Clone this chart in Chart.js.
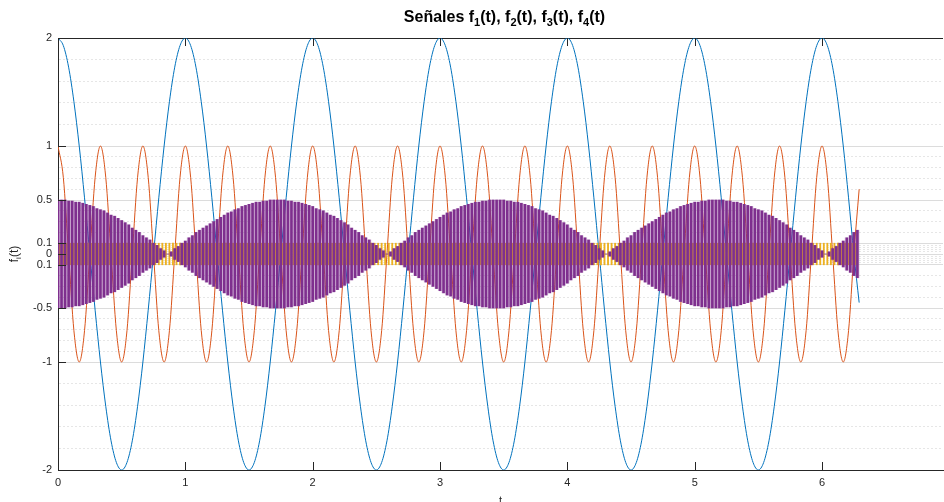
<!DOCTYPE html>
<html>
<head>
<meta charset="utf-8">
<script src="https://cdn.jsdelivr.net/npm/chart.js@4.4.1/dist/chart.umd.min.js"></script>
<style>
  html, body { margin: 0; padding: 0; background: #fff; }
  #wrap { width: 944px; height: 502px; }
</style>
</head>
<body>
<div id="wrap"><canvas id="chart" width="944" height="502"></canvas></div>
<script>
// f1 and f2 are sampled every 1/24 of a unit of t, starting at t = 0
const lineStep = 1 / 24;
const f1Values = [
  2, 1.93, 1.73, 1.41, 1, 0.52, 0, -0.52, -1, -1.41, -1.73, -1.93, -2, -1.93, -1.73, -1.41, -1, -0.52, 0, 0.52, 1, 1.41, 1.73, 1.93,
  2, 1.93, 1.73, 1.41, 1, 0.52, 0, -0.52, -1, -1.41, -1.73, -1.93, -2, -1.93, -1.73, -1.41, -1, -0.52, 0, 0.52, 1, 1.41, 1.73, 1.93,
  2, 1.93, 1.73, 1.41, 1, 0.52, 0, -0.52, -1, -1.41, -1.73, -1.93, -2, -1.93, -1.73, -1.41, -1, -0.52, 0, 0.52, 1, 1.41, 1.73, 1.93,
  2, 1.93, 1.73, 1.41, 1, 0.52, 0, -0.52, -1, -1.41, -1.73, -1.93, -2, -1.93, -1.73, -1.41, -1, -0.52, 0, 0.52, 1, 1.41, 1.73, 1.93,
  2, 1.93, 1.73, 1.41, 1, 0.52, 0, -0.52, -1, -1.41, -1.73, -1.93, -2, -1.93, -1.73, -1.41, -1, -0.52, 0, 0.52, 1, 1.41, 1.73, 1.93,
  2, 1.93, 1.73, 1.41, 1, 0.52, 0, -0.52, -1, -1.41, -1.73, -1.93, -2, -1.93, -1.73, -1.41, -1, -0.52, 0, 0.52, 1, 1.41, 1.73, 1.93,
  2, 1.93, 1.73, 1.41, 1, 0.52, 0, -0.45
];
const f2Values = [
  1, 0.71, 0, -0.71, -1, -0.71, 0, 0.71, 1, 0.71, 0, -0.71, -1, -0.71, 0, 0.71,
  1, 0.71, 0, -0.71, -1, -0.71, 0, 0.71, 1, 0.71, 0, -0.71, -1, -0.71, 0, 0.71,
  1, 0.71, 0, -0.71, -1, -0.71, 0, 0.71, 1, 0.71, 0, -0.71, -1, -0.71, 0, 0.71,
  1, 0.71, 0, -0.71, -1, -0.71, 0, 0.71, 1, 0.71, 0, -0.71, -1, -0.71, 0, 0.71,
  1, 0.71, 0, -0.71, -1, -0.71, 0, 0.71, 1, 0.71, 0, -0.71, -1, -0.71, 0, 0.71,
  1, 0.71, 0, -0.71, -1, -0.71, 0, 0.71, 1, 0.71, 0, -0.71, -1, -0.71, 0, 0.71,
  1, 0.71, 0, -0.71, -1, -0.71, 0, 0.71, 1, 0.71, 0, -0.71, -1, -0.71, 0, 0.71,
  1, 0.71, 0, -0.71, -1, -0.71, 0, 0.71, 1, 0.71, 0, -0.71, -1, -0.71, 0, 0.71,
  1, 0.71, 0, -0.71, -1, -0.71, 0, 0.71, 1, 0.71, 0, -0.71, -1, -0.71, 0, 0.71,
  1, 0.71, 0, -0.71, -1, -0.71, 0, 0.6
];

// f3 / f4 fast oscillations: one swing every 1/36 of a unit of t
const carrierStep = 1 / 36;
const f3Amp = [
  0.1, 0.1, 0.1, 0.1, 0.1, 0.1, 0.1, 0.1, 0.1, 0.1, 0.1, 0.1, 0.1, 0.1, 0.1, 0.1, 0.1, 0.1, 0.1, 0.1,
  0.1, 0.1, 0.1, 0.1, 0.1, 0.1, 0.1, 0.1, 0.1, 0.1, 0.1, 0.1, 0.1, 0.1, 0.1, 0.1, 0.1, 0.1, 0.1, 0.1,
  0.1, 0.1, 0.1, 0.1, 0.1, 0.1, 0.1, 0.1, 0.1, 0.1, 0.1, 0.1, 0.1, 0.1, 0.1, 0.1, 0.1, 0.1, 0.1, 0.1,
  0.1, 0.1, 0.1, 0.1, 0.1, 0.1, 0.1, 0.1, 0.1, 0.1, 0.1, 0.1, 0.1, 0.1, 0.1, 0.1, 0.1, 0.1, 0.1, 0.1,
  0.1, 0.1, 0.1, 0.1, 0.1, 0.1, 0.1, 0.1, 0.1, 0.1, 0.1, 0.1, 0.1, 0.1, 0.1, 0.1, 0.1, 0.1, 0.1, 0.1,
  0.1, 0.1, 0.1, 0.1, 0.1, 0.1, 0.1, 0.1, 0.1, 0.1, 0.1, 0.1, 0.1, 0.1, 0.1, 0.1, 0.1, 0.1, 0.1, 0.1,
  0.1, 0.1, 0.1, 0.1, 0.1, 0.1, 0.1, 0.1, 0.1, 0.1, 0.1, 0.1, 0.1, 0.1, 0.1, 0.1, 0.1, 0.1, 0.1, 0.1,
  0.1, 0.1, 0.1, 0.1, 0.1, 0.1, 0.1, 0.1, 0.1, 0.1, 0.1, 0.1, 0.1, 0.1, 0.1, 0.1, 0.1, 0.1, 0.1, 0.1,
  0.1, 0.1, 0.1, 0.1, 0.1, 0.1, 0.1, 0.1, 0.1, 0.1, 0.1, 0.1, 0.1, 0.1, 0.1, 0.1, 0.1, 0.1, 0.1, 0.1,
  0.1, 0.1, 0.1, 0.1, 0.1, 0.1, 0.1, 0.1, 0.1, 0.1, 0.1, 0.1, 0.1, 0.1, 0.1, 0.1, 0.1, 0.1, 0.1, 0.1,
  0.1, 0.1, 0.1, 0.1, 0.1, 0.1, 0.1, 0.1, 0.1, 0.1, 0.1, 0.1, 0.1, 0.1, 0.1, 0.1, 0.1, 0.1, 0.1, 0.1,
  0.1, 0.1, 0.1, 0.1, 0.1, 0.1
];
const f4Env = [
  0.50, 0.50, 0.50, 0.49, 0.49, 0.48, 0.48, 0.47, 0.46, 0.45, 0.44, 0.42, 0.41, 0.40, 0.38, 0.36, 0.35, 0.33, 0.31, 0.29,
  0.27, 0.24, 0.22, 0.20, 0.17, 0.15, 0.13, 0.10, 0.08, 0.05, 0.03, 0.00, 0.02, 0.05, 0.07, 0.10, 0.12, 0.15, 0.17, 0.20,
  0.22, 0.24, 0.26, 0.28, 0.30, 0.32, 0.34, 0.36, 0.38, 0.39, 0.41, 0.42, 0.44, 0.45, 0.46, 0.47, 0.48, 0.48, 0.49, 0.49,
  0.50, 0.50,
  0.50, 0.50, 0.50, 0.49, 0.49, 0.48, 0.48, 0.47, 0.46, 0.45, 0.44, 0.42, 0.41, 0.40, 0.38, 0.36, 0.35, 0.33, 0.31, 0.29,
  0.27, 0.24, 0.22, 0.20, 0.17, 0.15, 0.13, 0.10, 0.08, 0.05, 0.03, 0.00, 0.02, 0.05, 0.07, 0.10, 0.12, 0.15, 0.17, 0.20,
  0.22, 0.24, 0.26, 0.28, 0.30, 0.32, 0.34, 0.36, 0.38, 0.39, 0.41, 0.42, 0.44, 0.45, 0.46, 0.47, 0.48, 0.48, 0.49, 0.49,
  0.50, 0.50,
  0.50, 0.50, 0.50, 0.49, 0.49, 0.48, 0.48, 0.47, 0.46, 0.45, 0.44, 0.42, 0.41, 0.40, 0.38, 0.36, 0.35, 0.33, 0.31, 0.29,
  0.27, 0.24, 0.22, 0.20, 0.17, 0.15, 0.13, 0.10, 0.08, 0.05, 0.03, 0.00, 0.02, 0.05, 0.07, 0.10, 0.12, 0.15, 0.17, 0.20,
  0.22, 0.24, 0.26, 0.28, 0.30, 0.32, 0.34, 0.36, 0.38, 0.39, 0.41, 0.42, 0.44, 0.45, 0.46, 0.47, 0.48, 0.48, 0.49, 0.49,
  0.50, 0.50,
  0.50, 0.50, 0.50, 0.49, 0.49, 0.48, 0.48, 0.47, 0.46, 0.45, 0.44, 0.42, 0.41, 0.40, 0.38, 0.36, 0.35, 0.33, 0.31, 0.29,
  0.27, 0.24, 0.22, 0.20, 0.17, 0.15, 0.13, 0.10, 0.08, 0.05, 0.03, 0.00, 0.02, 0.05, 0.07, 0.10, 0.12, 0.15, 0.17, 0.20,
  0.22
];

const xTicks = [0, 1, 2, 3, 4, 5, 6];
const yTicks = [-2, -1, -0.5, -0.1, 0, 0.1, 0.5, 1, 2];
const yTickLabels = ['-2', '-1', '-0.5', '0.1', '0', '0.1', '0.5', '1', '2'];
const yMinor = [
  -1.8, -1.6, -1.4, -1.2, -0.9, -0.8, -0.7, -0.6, -0.4, -0.3, -0.2, -0.08, -0.06, -0.04, -0.02,
  0.02, 0.04, 0.06, 0.08, 0.2, 0.3, 0.4, 0.6, 0.7, 0.8, 0.9, 1.2, 1.4, 1.6, 1.8
];

const titleParts = [['Señales f', 0], ['1', 1], ['(t), f', 0], ['2', 1], ['(t), f', 0], ['3', 1], ['(t), f', 0], ['4', 1], ['(t)', 0]];
const yLabelParts = [['f', 0], ['i', 1], ['(t)', 0]];

const FONT = '"Liberation Sans", Arial, Helvetica, sans-serif';
const AXIS = '#262626';

const linePts = vals => vals.map((v, i) => ({ x: i * lineStep, y: v }));
const f4Bars = f4Env.map((e, k) => ({ x: k * carrierStep, y: [-e, e] }));

function drawParts(ctx, parts, cx, y, big, small, drop) {
  let w = 0;
  parts.forEach(([s, sub]) => { ctx.font = sub ? small : big; w += ctx.measureText(s).width; });
  let x = cx - w / 2;
  parts.forEach(([s, sub]) => {
    ctx.font = sub ? small : big;
    ctx.fillText(s, x, sub ? y + drop : y);
    x += ctx.measureText(s).width;
  });
}

const decor = {
  id: 'decor',
  afterDraw(chart) {
    const { ctx, chartArea: a, scales: { x, y } } = chart;
    ctx.save();
    ctx.strokeStyle = AXIS;
    ctx.lineWidth = 1;
    ctx.beginPath();
    xTicks.forEach(v => {
      const px = Math.round(x.getPixelForValue(v)) + 0.5;
      ctx.moveTo(px, a.bottom); ctx.lineTo(px, a.bottom - 8);
      ctx.moveTo(px, a.top); ctx.lineTo(px, a.top + 8);
    });
    yTicks.forEach(v => {
      const py = Math.round(y.getPixelForValue(v)) + 0.5;
      ctx.moveTo(a.left, py); ctx.lineTo(a.left + 8, py);
    });
    ctx.stroke();

    ctx.fillStyle = '#000';
    ctx.textBaseline = 'alphabetic';
    drawParts(ctx, titleParts, (a.left + a.right) / 2 + 4, 22, 'bold 16px ' + FONT, 'bold 11px ' + FONT, 4);

    ctx.fillStyle = AXIS;
    ctx.save();
    ctx.translate(18, (a.top + a.bottom) / 2);
    ctx.rotate(-Math.PI / 2);
    drawParts(ctx, yLabelParts, 0, 0, '12px ' + FONT, '8px ' + FONT, 3);
    ctx.restore();

    ctx.font = '11px ' + FONT;
    ctx.textAlign = 'center';
    ctx.textBaseline = 'top';
    ctx.fillText('t', (a.left + a.right) / 2, a.bottom + 25);
    ctx.restore();
  }
};

new Chart(document.getElementById('chart'), {
  type: 'line',
  data: {
    datasets: [
      {
        type: 'bar',
        label: 'f4(t)',
        data: f4Bars,
        backgroundColor: '#7E2F8E',
        barThickness: 2,
        grouped: false,
        order: 0
      },
      {
        // faint haze between the dense f4 swings
        type: 'bar',
        label: 'f4 haze',
        data: f4Bars,
        backgroundColor: 'rgba(126,47,142,0.22)',
        barThickness: 3.6,
        grouped: false,
        order: 0.5
      },
      {
        type: 'bar',
        label: 'f3(t)',
        data: f3Amp.map((e, k) => ({ x: (k + 0.5) * carrierStep, y: [-e, e] })),
        backgroundColor: '#EDB120',
        barThickness: 1.2,
        grouped: false,
        order: 1
      },
      {
        label: 'f2(t)',
        data: linePts(f2Values),
        borderColor: '#D95319',
        borderWidth: 1,
        pointRadius: 0,
        cubicInterpolationMode: 'monotone',
        order: 2
      },
      {
        label: 'f1(t)',
        data: linePts(f1Values),
        borderColor: '#0072BD',
        borderWidth: 1,
        pointRadius: 0,
        cubicInterpolationMode: 'monotone',
        order: 3
      }
    ]
  },
  options: {
    responsive: false,
    animation: false,
    events: [],
    layout: { padding: { top: 38, right: 1, left: 0, bottom: 0 } },
    plugins: { legend: { display: false }, tooltip: { enabled: false }, title: { display: false } },
    scales: {
      x: {
        type: 'linear',
        min: 0,
        max: 6.95,
        offset: false,
        afterBuildTicks: s => { s.ticks = xTicks.map(v => ({ value: v })); },
        afterFit: s => { s.height = 32; },
        grid: { display: false, drawTicks: false, offset: false },
        border: { display: true, color: AXIS, width: 1 },
        ticks: { autoSkip: false, maxRotation: 0, padding: 6, color: AXIS, font: { family: FONT, size: 11 }, callback: v => String(v) }
      },
      y: {
        type: 'linear',
        min: -2,
        max: 2,
        beginAtZero: false,
        afterBuildTicks: s => {
          s.ticks = yTicks.concat(yMinor).sort((p, q) => p - q).map(v => ({ value: v }));
        },
        afterFit: s => { s.width = 58; },
        grid: {
          drawTicks: false,
          lineWidth: 1,
          color: c => {
            const v = c.tick && c.tick.value;
            if (v === 2 || v === -2) return AXIS;
            return yTicks.includes(v) ? '#dcdcdc' : '#e6e6e6';
          }
        },
        border: {
          display: true,
          color: AXIS,
          width: 1,
          dash: c => (c.tick && !yTicks.includes(c.tick.value)) ? [2, 2] : []
        },
        ticks: {
          autoSkip: false,
          padding: 6,
          color: AXIS,
          font: { family: FONT, size: 11 },
          callback: v => {
            const i = yTicks.indexOf(v);
            return i < 0 ? '' : yTickLabels[i];
          }
        }
      }
    }
  },
  plugins: [decor]
});
</script>
</body>
</html>
